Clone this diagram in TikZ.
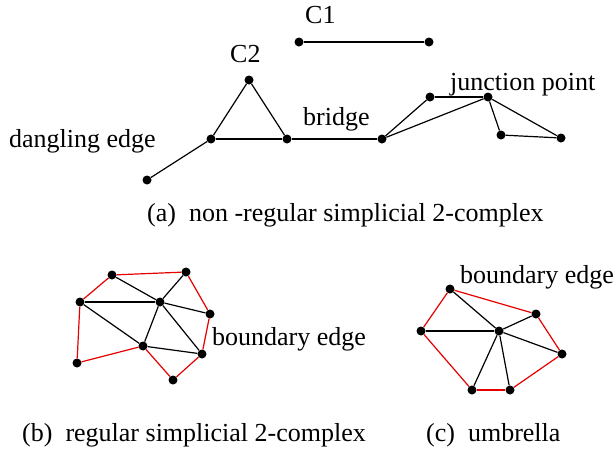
\documentclass[tikz,border=0pt]{standalone}
\usepackage{fontspec}
\setmainfont{Liberation Serif}
\begin{document}
\begin{tikzpicture}[x=1pt,y=-1pt,
  vtx/.style={circle,fill=black,inner sep=0pt,minimum size=9pt},
  edge/.style={line width=1.2pt,black},
  bedge/.style={line width=1.2pt,red!90!black},
  lbl/.style={anchor=base west,inner sep=0pt,font=\fontsize{26}{30}\selectfont}]
\useasboundingbox (0,0) rectangle (614,450);
% (a)
\node[vtx] (c1a) at (299,42) {};
\node[vtx] (c1b) at (429,42) {};
\node[vtx] (t1) at (249,80) {};
\node[vtx] (t2) at (211,139) {};
\node[vtx] (t3) at (287,139) {};
\node[vtx] (d1) at (147,180) {};
\node[vtx] (b1) at (382,139) {};
\node[vtx] (j1) at (430,97) {};
\node[vtx] (j0) at (488,97) {};
\node[vtx] (j2) at (501,135) {};
\node[vtx] (j3) at (561,138) {};
\draw[edge] (c1a) -- (c1b);
\draw[edge] (t1) -- (t2);
\draw[edge] (t2) -- (t3);
\draw[edge] (t3) -- (t1);
\draw[edge] (d1) -- (t2);
\draw[edge] (t3) -- (b1);
\draw[edge] (b1) -- (j1);
\draw[edge] (j1) -- (j0);
\draw[edge] (b1) -- (j0);
\draw[edge] (j0) -- (j2);
\draw[edge] (j2) -- (j3);
\draw[edge] (j0) -- (j3);
\node[lbl] (lc1) at (305,23) {C1};
\node[lbl] (lc2) at (230,62) {C2};
\node[lbl] (lbr) at (303,125) {bridge};
\node[lbl] (ljp) at (450,90) {junction point};
\node[lbl] (lde) at (9,147) {dangling edge};
\node[lbl] (capa) at (147,221) {(a)\ \ non -regular simplicial 2-complex};
% (b)
\node[vtx] (bA) at (112,275) {};
\node[vtx] (bB) at (186,272) {};
\node[vtx] (bC) at (80,302) {};
\node[vtx] (bD) at (160,302) {};
\node[vtx] (bE) at (210,314) {};
\node[vtx] (bF) at (143,346) {};
\node[vtx] (bG) at (202,354) {};
\node[vtx] (bH) at (77,363) {};
\node[vtx] (bI) at (173,380) {};
\draw[bedge] (bA) -- (bB);
\draw[bedge] (bB) -- (bE);
\draw[bedge] (bE) -- (bG);
\draw[bedge] (bG) -- (bI);
\draw[bedge] (bI) -- (bF);
\draw[bedge] (bF) -- (bH);
\draw[bedge] (bH) -- (bC);
\draw[bedge] (bC) -- (bA);
\draw[edge] (bA) -- (bD);
\draw[edge] (bB) -- (bD);
\draw[edge] (bC) -- (bD);
\draw[edge] (bC) -- (bF);
\draw[edge] (bD) -- (bF);
\draw[edge] (bD) -- (bE);
\draw[edge] (bD) -- (bG);
\draw[edge] (bF) -- (bG);
\node[lbl] (lbe1) at (212,345) {boundary edge};
\node[lbl] (capb) at (22,441) {(b)\ \ regular simplicial 2-complex};
% (c)
\node[vtx] (cP1) at (450,289) {};
\node[vtx] (cP2) at (536,314) {};
\node[vtx] (cP3) at (421,331) {};
\node[vtx] (cO) at (499,331) {};
\node[vtx] (cP4) at (562,354) {};
\node[vtx] (cP5) at (472,390) {};
\node[vtx] (cP6) at (510,390) {};
\draw[bedge] (cP1) -- (cP2);
\draw[bedge] (cP2) -- (cP4);
\draw[bedge] (cP4) -- (cP6);
\draw[bedge] (cP6) -- (cP5);
\draw[bedge] (cP5) -- (cP3);
\draw[bedge] (cP3) -- (cP1);
\foreach \v in {cP1,cP2,cP3,cP4,cP5,cP6} \draw[edge] (cO) -- (\v);
\node[lbl] (lbe2) at (460,283) {boundary edge};
\node[lbl] (capc) at (426,441) {(c)\ \ umbrella};
\end{tikzpicture}
\end{document}
